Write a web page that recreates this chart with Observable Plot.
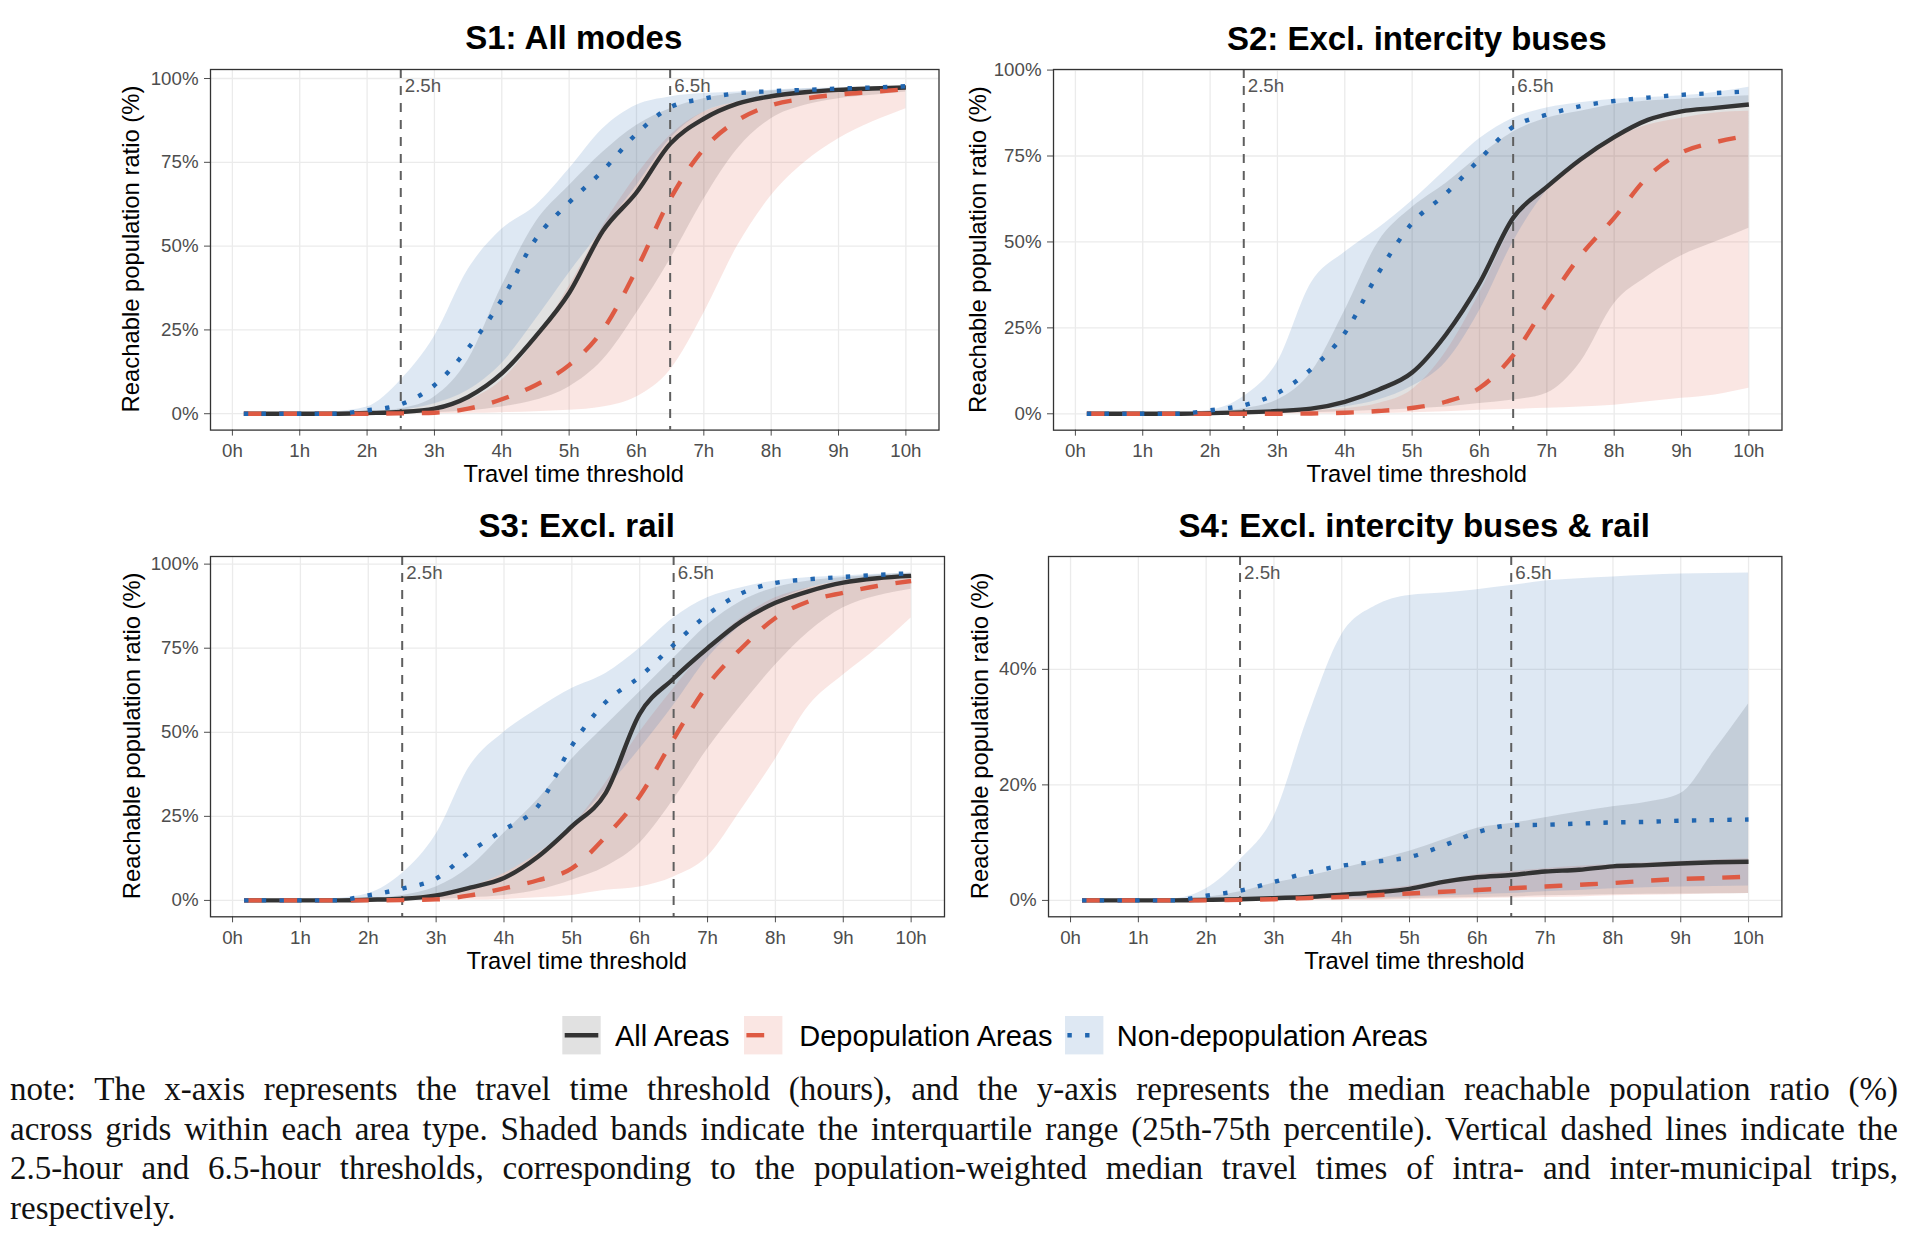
<!DOCTYPE html>
<html><head><meta charset="utf-8">
<script src="https://cdn.jsdelivr.net/npm/d3@7"></script>
<script src="https://cdn.jsdelivr.net/npm/@observablehq/plot@0.6"></script>
<style>
html,body{margin:0;padding:0;background:#fff;}
body{width:1913px;height:1239px;position:relative;overflow:hidden;font-family:"Liberation Sans",Arial,sans-serif;}
.panel{position:absolute;}
#overlay{position:absolute;left:0;top:0;}
.note{position:absolute;left:10px;width:1888px;font-family:"Liberation Serif",serif;font-size:33px;line-height:33px;color:#111;white-space:nowrap;}
.just{text-align:justify;text-align-last:justify;white-space:normal;}
</style>
</head><body>
<div id="plots"></div>
<svg id="overlay" width="1913" height="1239"></svg>
<script>
// ---- data ----
const hours = [0.17, 0.5, 1, 1.5, 2, 2.5, 3, 3.5, 4, 4.5, 5, 5.5, 6, 6.5, 7, 7.5, 8, 8.5, 9, 9.5, 10];
const seriesNames = ["All Areas", "Depopulation Areas", "Non-depopulation Areas"];
const panelTitles = ["S1: All modes", "S2: Excl. intercity buses", "S3: Excl. rail", "S4: Excl. intercity buses & rail"];
const xTicks = [0,1,2,3,4,5,6,7,8,9,10];
const refLines = [2.5, 6.5];

// S1
const s1AllMed = [0,0,0,0,0.2,0.5,1.5,5,12,23,36,54.5,66,80.5,88,92.5,94.7,95.9,96.6,97,97.3];
const s1AllLo  = [0,0,0,0,0,0.1,0.3,0.8,2,4,8,16,30,46,64,79,88,92,94,95,96];
const s1AllHi  = [0,0,0,0,0.5,1.5,5,16,38,57,68,78,86,91,94,95.5,96.3,96.8,97.2,97.5,97.8];
const s1DepMed = [0,0,0,0,0,0.1,0.3,1.5,4.3,8.5,14.5,25,43,64,79,87.5,92,94,95.2,96,96.8];
const s1DepLo  = [0,0,0,0,0,0,0,0.1,0.3,0.6,1,2,5,13,30,50,65,75,82,87,91];
const s1DepHi  = [0,0,0,0,0.2,0.5,1.5,4,10,22,38,56,71,83,90,93,95,96,96.8,97.2,97.6];
const s1NonMed = [0,0,0,0,1,2.8,8.5,19.5,34,52,63,72.5,83.5,91.4,94,95.6,96.2,96.6,97,97.3,97.7];
const s1NonLo  = [0,0,0,0,0.3,1,3,7,15,28,42,55,68,82,90,93,95,96,96.5,97,97.3];
const s1NonHi  = [0,0,0,0.5,2,10,23,43,55,62,73,85,92,94.5,95.5,96,96.5,97,97.2,97.5,97.8];
// S2
const s2AllMed = [0,0,0,0,0.2,0.4,0.8,1.5,3.5,7,12,23,38,57,66,74,80.5,85.5,88,89,90];
const s2AllLo  = [0,0,0,0,0,0,0.1,0.3,0.6,1,1.5,2,3,4,6,15,32,40,46,50,54];
const s2AllHi  = [0,0,0,0,0.5,1.5,4,12,30,50,60,67,75,82,86,88,90,91,91.5,92,92.5];
const s2DepMed = [0,0,0,0,0,0,0,0.1,0.3,0.8,1.7,3.5,7.5,17,32,46,57,69,76,79,81];
const s2DepLo  = [0,0,0,0,0,0,0,0,0,0.1,0.3,0.6,1,1.3,1.6,2,2.5,3.5,4.5,5.5,7.4];
const s2DepHi  = [0,0,0,0,0,0.2,0.5,1,1.5,3,7,18,35,55,66,74,80,84,86,87.5,88];
const s2NonMed = [0,0,0,0,1,2.5,6,13,23.5,41,55.5,64,74,83.5,87,89.5,91,92,92.8,93.3,93.8];
const s2NonLo  = [0,0,0,0,0,0.3,0.7,1.2,2,4,8,15,30,50,65,74,80,85,87.5,89,90.5];
const s2NonHi  = [0,0,0,0.3,1,5,15,38,47,54,62,71,80,86,89,90.5,91.5,92,92.5,93.5,95];
// S3
const s3AllMed = [0,0,0,0,0.2,0.5,1.5,3.8,6.7,13,22,32,55.5,66,75,83,88.5,92,94.5,95.8,96.5];
const s3AllLo  = [0,0,0,0,0,0.1,0.3,0.8,1.5,3,6,10,17,30,45,58,70,80,87,90.5,92.5];
const s3AllHi  = [0,0,0,0,0.5,1.5,4,10,20,30,42,52,62,72,82,89,93,95,96,96.8,97.3];
const s3DepMed = [0,0,0,0,0,0.1,0.3,1.5,3.6,6,9.5,19,31,48,64,75,84,89,91.5,93.5,95];
const s3DepLo  = [0,0,0,0,0,0,0,0.1,0.3,0.8,1.5,3,4,7,13,27,42,58,67,75,84];
const s3DepHi  = [0,0,0,0,0.1,0.5,1.5,4,8,14,22,35,50,63,75,84,90,93,95,96,96.8];
const s3NonMed = [0,0,0,0,1.5,3.5,6.5,14.5,21,28,46,59,66.5,76,85,91.3,94.4,95.5,96.2,96.8,97.3];
const s3NonLo  = [0,0,0,0,0.3,1,2,4,8,14,22,33,45,58,72,82,89,93,95,96.3,97];
const s3NonHi  = [0,0,0,0.5,2,8,19.7,40,50,57,63,67.5,75,84,90,93,95,96,96.5,97,97.4];
// S4
const s4AllMed = [0,0,0,0,0.1,0.2,0.4,0.6,1,1.4,2,3.2,4,4.4,5,5.3,5.9,6.1,6.4,6.6,6.7];
const s4AllLo  = [0,0,0,0,0,0,0,0.1,0.1,0.2,0.3,0.4,0.5,0.6,0.8,0.9,1,1.05,1.1,1.15,1.2];
const s4AllHi  = [0,0,0,0,0.5,1.5,3,4.2,5.5,7,8.5,10.5,12.5,13.3,14.3,15.3,16.2,17,18.5,26,34];
const s4DepMed = [0,0,0,0,0,0.1,0.2,0.4,0.6,0.9,1.2,1.5,1.8,2.1,2.4,2.7,3,3.4,3.7,3.9,4.1];
const s4DepLo  = [0,0,0,0,0,0,0,0,0,0,0.1,0.2,0.3,0.4,0.5,0.6,0.8,0.9,1,1.1,1.2];
const s4DepHi  = [0,0,0,0,0.1,0.2,0.6,0.9,1.2,1.8,2.5,3.5,4.5,5,5.5,5.9,6.2,6.5,6.8,7,7.2];
const s4NonMed = [0,0,0,0,0.8,1.7,3.2,4.8,6,6.7,7.5,9.5,11.8,13,13.1,13.3,13.5,13.6,13.8,13.9,14];
const s4NonLo  = [0,0,0,0,0,0.1,0.2,0.3,0.4,0.5,0.6,0.8,1,1.2,1.5,1.7,2,2.2,2.3,2.4,2.5];
const s4NonHi  = [0,0,0,0.2,2,7,14.5,31.6,46,51,52.8,53.2,53.8,54.5,55.3,55.7,56,56.3,56.5,56.6,56.7];

const noteLines = [
  "note: The x-axis represents the travel time threshold (hours), and the y-axis represents the median reachable population ratio (%)",
  "across grids within each area type. Shaded bands indicate the interquartile range (25th-75th percentile). Vertical dashed lines indicate the",
  "2.5-hour and 6.5-hour thresholds, corresponding to the population-weighted median travel times of intra- and inter-municipal trips,",
  "respectively."
];

// ---- styling / layout ----
const COL = {"All Areas": "#333333", "Depopulation Areas": "#DE5A43", "Non-depopulation Areas": "#2166B0"};
const DASH = {"All Areas": null, "Depopulation Areas": "17.8,17.8", "Non-depopulation Areas": "4.4,13.3"};
const ALPHA = 0.15;
const LW = 4.4;

const panels = [
  {title: panelTitles[0], L:209.5, R:938, T:68.7, B:429.3, yMax:97.8, yTicks:[0,25,50,75,100], ytX:138.5, titleY:49.3, xtY:481.7,
   s:{"All Areas":[s1AllLo,s1AllMed,s1AllHi], "Depopulation Areas":[s1DepLo,s1DepMed,s1DepHi], "Non-depopulation Areas":[s1NonLo,s1NonMed,s1NonHi]}},
  {title: panelTitles[1], L:1052.5, R:1781, T:69.3, B:430, yMax:95.4, yTicks:[0,25,50,75,100], ytX:985.5, titleY:49.5, xtY:481.7,
   s:{"All Areas":[s2AllLo,s2AllMed,s2AllHi], "Depopulation Areas":[s2DepLo,s2DepMed,s2DepHi], "Non-depopulation Areas":[s2NonLo,s2NonMed,s2NonHi]}},
  {title: panelTitles[2], L:209.7, R:943.7, T:555.7, B:916, yMax:97.4, yTicks:[0,25,50,75,100], ytX:139.5, titleY:536.7, xtY:969,
   s:{"All Areas":[s3AllLo,s3AllMed,s3AllHi], "Depopulation Areas":[s3DepLo,s3DepMed,s3DepHi], "Non-depopulation Areas":[s3NonLo,s3NonMed,s3NonHi]}},
  {title: panelTitles[3], L:1047.6, R:1781, T:555.7, B:916, yMax:56.7, yTicks:[0,20,40], ytX:988, titleY:536.7, xtY:969,
   s:{"All Areas":[s4AllLo,s4AllMed,s4AllHi], "Depopulation Areas":[s4DepLo,s4DepMed,s4DepHi], "Non-depopulation Areas":[s4NonLo,s4NonMed,s4NonHi]}}
];

const mL = 80, mR = 12, mT = 12, mB = 40;
const host = document.getElementById("plots");

for (const p of panels) {
  const W = p.R - p.L + mL + mR, H = p.B - p.T + mT + mB;
  const rows = {};
  for (const name of seriesNames) {
    const [lo, med, hi] = p.s[name];
    rows[name] = hours.map((h, i) => ({h, lo: lo[i], med: med[i], hi: hi[i]}));
  }
  const marks = [
    Plot.gridX({ticks: xTicks, stroke: "#ebebeb", strokeOpacity: 1, strokeWidth: 1.3}),
    Plot.gridY({ticks: p.yTicks, stroke: "#ebebeb", strokeOpacity: 1, strokeWidth: 1.3}),
    ...seriesNames.map(name => Plot.areaY(rows[name], {x: "h", y1: "lo", y2: "hi", fill: COL[name], fillOpacity: ALPHA, curve: "monotone-x"})),
    Plot.ruleX(refLines, {stroke: "#5f5f5f", strokeWidth: 2, strokeDasharray: "9,8"}),
    Plot.text(refLines, {x: d => d, text: d => d + "h", frameAnchor: "top", textAnchor: "start", lineAnchor: "top", dx: 4, dy: 9.5, fill: "#555", fontSize: 18.7}),
    ...seriesNames.map(name => Plot.lineY(rows[name], {x: "h", y: "med", stroke: COL[name], strokeWidth: LW, curve: "monotone-x",
        strokeDasharray: DASH[name], strokeLinecap: "butt", strokeLinejoin: "round"})),
    Plot.axisX({ticks: xTicks, tickFormat: d => d + "h", tickSize: 6, tickPadding: 8, fontSize: 18.7, color: "#4d4d4d", label: null}),
    Plot.axisY({ticks: p.yTicks, tickFormat: d => d + "%", tickSize: 6, tickPadding: 6, fontSize: 18.7, color: "#4d4d4d", label: null}),
    Plot.frame({stroke: "#333", strokeWidth: 1.3})
  ];
  const svg = Plot.plot({
    width: W, height: H, marginLeft: mL, marginRight: mR, marginTop: mT, marginBottom: mB,
    x: {domain: [-0.325, 10.4917]},
    y: {domain: [-0.05 * p.yMax, 1.05 * p.yMax]},
    style: {fontFamily: "'Liberation Sans', Arial, sans-serif", background: "transparent", overflow: "visible"},
    marks
  });
  const div = document.createElement("div");
  div.className = "panel";
  div.style.left = (p.L - mL) + "px";
  div.style.top = (p.T - mT) + "px";
  div.appendChild(svg);
  host.appendChild(div);
}

// ---- overlay texts (titles, axis titles, legend) ----
const ov = d3.select("#overlay").style("font-family", "'Liberation Sans', Arial, sans-serif");
for (const p of panels) {
  const cx = (p.L + p.R) / 2, cy = (p.T + p.B) / 2;
  ov.append("text").attr("x", cx).attr("y", p.titleY).attr("text-anchor", "middle")
    .attr("font-size", 33).attr("font-weight", "bold").attr("fill", "#000").text(p.title);
  ov.append("text").attr("x", cx).attr("y", p.xtY).attr("text-anchor", "middle")
    .attr("font-size", 23.7).attr("fill", "#000").text("Travel time threshold");
  ov.append("text").attr("transform", `translate(${p.ytX},${cy}) rotate(-90)`).attr("text-anchor", "middle")
    .attr("font-size", 23.8).attr("fill", "#000").text("Reachable population ratio (%)");
}
const legendKeys = [
  {name: seriesNames[0], bx: 562.3, tx: 615},
  {name: seriesNames[1], bx: 744, tx: 799.3},
  {name: seriesNames[2], bx: 1065, tx: 1116.7}
];
for (const k of legendKeys) {
  ov.append("rect").attr("x", k.bx).attr("y", 1016).attr("width", 38.4).attr("height", 38.4)
    .attr("fill", COL[k.name]).attr("fill-opacity", ALPHA);
  ov.append("line").attr("x1", k.bx + 2.4).attr("x2", k.bx + 36).attr("y1", 1035.2).attr("y2", 1035.2)
    .attr("stroke", COL[k.name]).attr("stroke-width", LW).attr("stroke-dasharray", DASH[k.name])
    .attr("stroke-linecap", "butt");
  ov.append("text").attr("x", k.tx).attr("y", 1045.7).attr("font-size", 29).attr("fill", "#000").text(k.name);
}

// ---- note ----
const noteBase = [1101, 1140.5, 1180, 1219.5];
noteLines.forEach((t, i) => {
  const d = document.createElement("div");
  d.className = "note" + (i < noteLines.length - 1 ? " just" : "");
  d.style.top = (noteBase[i] - 0.8375 * 33) + "px";
  d.textContent = t;
  document.body.appendChild(d);
});
</script>
</body></html>
